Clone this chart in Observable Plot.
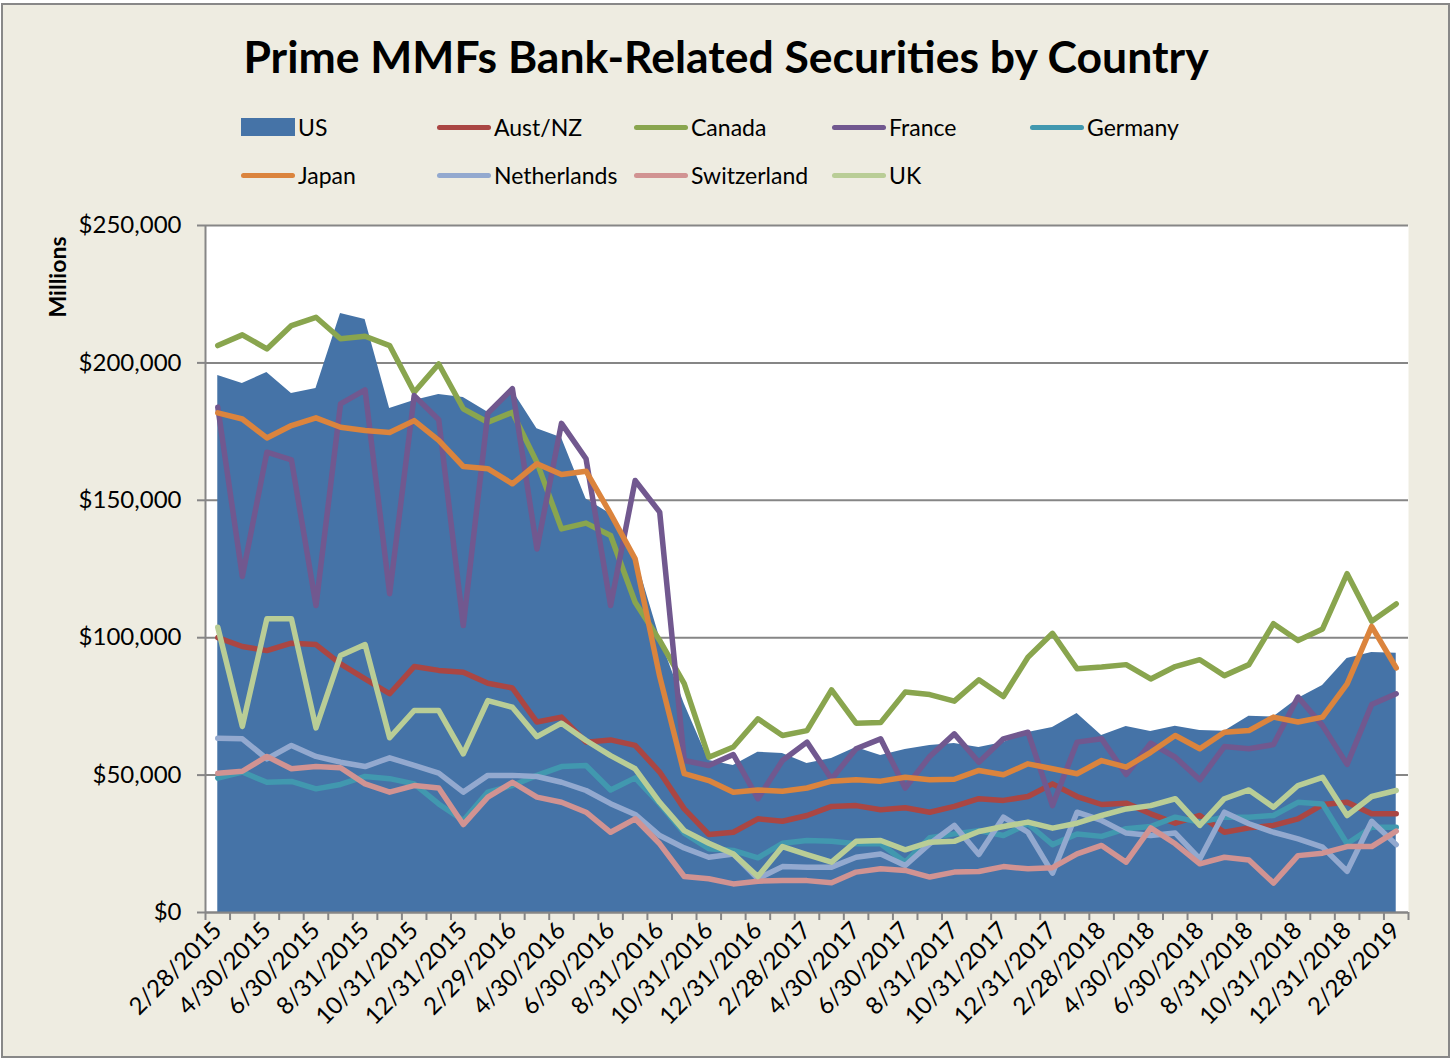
<!DOCTYPE html>
<html><head><meta charset="utf-8">
<script src="https://cdn.jsdelivr.net/npm/d3@7"></script>
<script src="https://cdn.jsdelivr.net/npm/@observablehq/plot@0.6"></script>
<style>
body{margin:0;width:1452px;height:1059px;background:#fff;position:relative;overflow:hidden;font-family:Lato,'Open Sans',sans-serif;color:#000;}
#frame{position:absolute;left:1px;top:3px;width:1449px;height:1055px;box-sizing:border-box;border:2px solid #888;background:#EEECE1;}
#title{position:absolute;left:0;width:1452px;top:29px;text-align:center;font-weight:bold;font-size:44.5px;line-height:54px;}
.leg{position:absolute;height:30px;display:flex;align-items:center;font-size:23px;white-space:nowrap;}
.sw{display:inline-block;width:54px;margin-right:3px;}
#ylab{position:absolute;left:57px;top:277px;transform:translate(-50%,-50%) rotate(-90deg);font-weight:bold;font-size:23px;white-space:nowrap;}
#chart{position:absolute;left:0;top:200px;}
</style></head>
<body>
<div id="frame"></div>
<div id="title">Prime MMFs Bank-Related Securities by Country</div>
<div id="legend"></div>
<div id="ylab">Millions</div>
<div id="chart"></div>
<script>
const dates = ["2/28/2015","3/31/2015","4/30/2015","5/31/2015","6/30/2015","7/31/2015","8/31/2015","9/30/2015","10/31/2015","11/30/2015","12/31/2015",
"1/31/2016","2/29/2016","3/31/2016","4/30/2016","5/31/2016","6/30/2016","7/31/2016","8/31/2016","9/30/2016","10/31/2016","11/30/2016","12/31/2016",
"1/31/2017","2/28/2017","3/31/2017","4/30/2017","5/31/2017","6/30/2017","7/31/2017","8/31/2017","9/30/2017","10/31/2017","11/30/2017","12/31/2017",
"1/31/2018","2/28/2018","3/31/2018","4/30/2018","5/31/2018","6/30/2018","7/31/2018","8/31/2018","9/30/2018","10/31/2018","11/30/2018","12/31/2018",
"1/31/2019","2/28/2019"];

const US = [195400,192500,196500,188900,190700,218000,215800,183400,186300,188500,187400,182000,
 190000,176000,172800,150500,145000,130000,100000,76000,55300,53500,58300,57900,
 54200,56000,60000,57100,59300,60800,61500,60000,61900,65500,67300,72400,
 64400,67700,65900,67800,66200,66000,71400,71100,77900,82600,92400,94600,94300];
const AustNZ = [100000,96800,95300,98000,97500,90500,85000,79600,89500,88100,87400,83400,
 81700,69300,71100,62000,62800,60800,51100,37700,28400,29200,34100,33200,
 35300,38600,38900,37400,38100,36500,38600,41400,40800,42200,46800,42200,
 39300,39800,35900,32500,35300,29200,30800,31700,34100,39300,40100,35900,35900];
const Canada = [206300,210200,205100,213600,216600,208800,209700,206300,189300,199600,183300,178400,
 182000,163800,139600,141700,137200,112900,99000,83300,56500,60200,70500,64400,
 66200,81000,68900,69100,80200,79300,76900,84700,78600,92900,101600,88700,
 89300,90200,85000,89500,92000,86200,90200,105100,99000,103200,123300,106000,112300];
const France = [183900,122300,167500,164700,111700,185100,190200,116000,188100,179300,104400,181700,
 190600,132300,178000,165100,111700,157200,145700,55300,53500,57500,41400,55300,
 62000,48600,59600,63200,45300,56800,65000,54700,63200,65600,38900,62000,
 63200,50200,61600,56500,48300,60400,59600,61100,78400,68000,53900,75700,79600];
const Germany = [48900,51100,47400,47700,45000,46600,49500,48700,46800,39500,33500,43800,
 46200,49900,53100,53500,44600,49000,39500,28900,23200,22600,19900,25200,
 26200,25900,25000,25000,18300,27200,28600,29800,28000,32300,24700,28600,
 27700,30500,31300,34700,32900,34700,34700,35300,40100,39500,25000,31000,31000];
const Japan = [181800,179600,172700,177200,180000,176600,175400,174700,179000,171800,162300,161500,
 156000,163300,159400,160600,145100,128700,85900,50500,48000,43800,44600,44100,
 45300,47800,48300,47800,49200,48300,48500,51700,50100,54100,52300,50500,
 55300,52900,58300,64400,59600,65600,66200,71100,69300,71100,83200,104100,89000];
const Netherlands = [63400,63200,55900,60800,56800,54700,53100,56300,53500,50700,43800,49900,
 49900,49500,47400,44400,39600,35700,28000,23500,20100,21300,12300,16700,
 16500,16500,20100,21300,17100,25000,31700,21100,34700,29200,14300,36500,
 33500,28900,28000,28900,19500,36500,32300,29200,26800,23800,15000,33200,24700];
const Switzerland = [50700,51400,56800,52300,53100,52700,46800,43800,46200,45300,32000,42000,
 47400,42000,40100,36500,29200,34100,25000,13100,12300,10400,11400,11600,
 11600,10800,14700,15900,15300,12900,14700,14900,16700,15900,16300,21300,
 24400,18300,30800,25000,17700,20100,19100,10700,20700,21600,24000,24000,29600];
const UK = [103800,67700,106900,106900,67200,93500,97500,63600,73500,73500,57700,77100,
 74700,64000,68900,62600,57100,52300,40100,29800,25200,21300,13100,24000,
 21100,18300,25900,26200,22800,25600,25900,29500,31300,32900,30700,32500,
 35300,37700,38900,41400,31700,41400,44600,38300,46200,49200,35300,42200,44400];

const areaName = "US";
const areaColor = "#4573A7";
const lineNames = ["Aust/NZ","Canada","France","Germany","Japan","Netherlands","Switzerland","UK"];
const lineColors = ["#AA4643","#89A54E","#71588F","#4198AF","#DB843D","#93A9CF","#D19392","#B9CD96"];
const lineValues = [AustNZ, Canada, France, Germany, Japan, Netherlands, Switzerland, UK];
const yTicks = [0,50000,100000,150000,200000,250000];

const rows = dates.map((d, i) => {
  const r = {i, date: d, US: US[i]};
  lineNames.forEach((n, k) => r[n] = lineValues[k][i]);
  return r;
});

// Legend
const legend = document.getElementById("legend");
const legItems = [{name: areaName, color: areaColor, area: true}].concat(lineNames.map((n, k) => ({name: n, color: lineColors[k]})));
const colX = [241, 437, 634, 832, 1030];
const rowY = [127, 175];
legItems.forEach((it, k) => {
  const el = document.createElement("div");
  el.className = "leg";
  el.style.left = colX[k % 5] + "px";
  el.style.top = (rowY[Math.floor(k / 5)] - 15) + "px";
  const sw = document.createElement("span");
  sw.className = "sw";
  if (it.area) { sw.style.height = "18px"; sw.style.background = it.color; }
  else { sw.style.height = "5px"; sw.style.background = it.color; sw.style.borderRadius = "3px"; }
  el.appendChild(sw);
  el.appendChild(document.createTextNode(it.name));
  legend.appendChild(el);
});

const xEdges = dates.map((d, i) => i - 0.5).concat([dates.length - 0.5]);
const xLabelIdx = dates.map((d, i) => i).filter(i => i % 2 === 0);
const gray = "#868686";

const chart = Plot.plot({
  width: 1452, height: 859,
  marginLeft: 205, marginRight: 44, marginTop: 25, marginBottom: 147,
  style: {background: "transparent", fontFamily: "Lato, 'Open Sans', sans-serif", fontSize: "24px", color: "#000", overflow: "visible"},
  x: {type: "linear", domain: [-0.5, dates.length - 0.5]},
  y: {domain: [0, 250000]},
  marks: [
    Plot.frame({fill: "white", stroke: null}),
    Plot.gridY(yTicks, {stroke: gray, strokeOpacity: 1, strokeWidth: 2}),
    Plot.areaY(rows, {x: "i", y: "US", fill: areaColor}),
    ...lineNames.map((n, k) => Plot.line(rows, {x: "i", y: n, stroke: lineColors[k], strokeWidth: 5.5, strokeLinejoin: "round", strokeLinecap: "round"})),
    Plot.ruleX([-0.5], {stroke: gray, strokeWidth: 2}),
    Plot.ruleY([0], {stroke: gray, strokeWidth: 2}),
    Plot.axisY({ticks: yTicks, tickFormat: d => "$" + d3.format(",")(d), tickSize: 8, tickPadding: 16, stroke: gray, strokeWidth: 2, fontSize: 24, label: null}),
    Plot.axisX({ticks: xEdges, tickFormat: () => "", tickSize: 8, stroke: gray, strokeWidth: 2, label: null}),
    Plot.axisX({ticks: xLabelIdx, tickFormat: i => dates[i], tickSize: 0, tickPadding: 14, tickRotate: -45, fontSize: 24, label: null})
  ]
});
document.getElementById("chart").appendChild(chart);
</script>
</body></html>
